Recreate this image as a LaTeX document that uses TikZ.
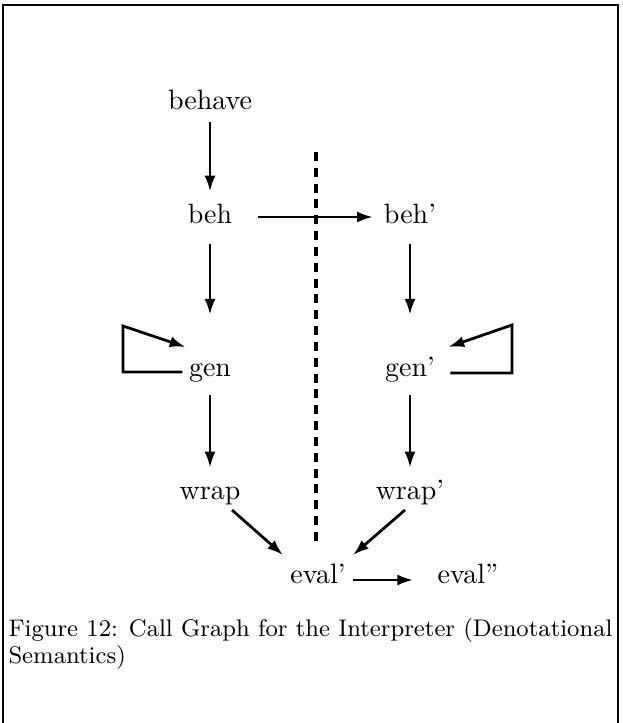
\documentclass[tikz,border=0pt]{standalone}
\usetikzlibrary{arrows.meta,calc}
\begin{document}
\begin{tikzpicture}[x=0.379pt,y=-0.379pt,
  lbl/.style={inner sep=0pt, text height=7.4pt, text depth=2.1pt, font=\fontsize{10.6}{12.7}\selectfont},
  arr/.style={line width=1.05pt, -{Latex[length=6pt,width=4.2pt]}},
  loopline/.style={line width=1.05pt, -{Latex[length=6pt,width=4.2pt]}},
  divider/.style={line width=1.2pt, dash pattern=on 3.4pt off 2.6pt},
  frameline/.style={line width=0.9pt},
  captext/.style={inner sep=0pt, anchor=base west, font=\fontsize{9.1}{11}\selectfont}]
\useasboundingbox (0,0) rectangle (622,723);
\draw[frameline] (3,723) -- (3,5) -- (618,5) -- (618,723);

\node[lbl] (behave) at (210,103) {behave};
\node[lbl] (beh)    at (210,217) {beh};
\node[lbl] (behp)   at (410,217) {beh'};
\node[lbl] (gen)    at (210,370) {gen};
\node[lbl] (genp)   at (410,370) {gen'};
\node[lbl] (wrap)   at (210,493) {wrap};
\node[lbl] (wrapp)  at (410,493) {wrap'};
\node[lbl] (evalp)  at (318,577) {eval'};
\node[lbl] (evalpp) at (468,577) {eval''};

\coordinate (dtop) at (316,152);
\coordinate (dbot) at (316,543);
\draw[divider] (dtop) -- (dbot);

\draw[arr, shorten <=2.4pt, shorten >=4.7pt] (behave) -- (beh);
\draw[arr, shorten <=9.6pt, shorten >=4pt] (beh) -- (behp);
\draw[arr, shorten <=5.1pt, shorten >=16pt] (beh) -- (gen);
\draw[arr, shorten <=5.1pt, shorten >=16pt] (behp) -- (genp);
\draw[arr, shorten <=4.7pt, shorten >=4.7pt] (gen) -- (wrap);
\draw[arr, shorten <=4.7pt, shorten >=4.7pt] (genp) -- (wrapp);

\coordinate (gl1) at (123,372);
\coordinate (gl2) at (123,326);
\draw[loopline] ($(gen.west)+(-6,2)$) -- (gl1) -- (gl2) -- ($(gen.west)+(-3,-23)$);
\coordinate (gr1) at (512,373);
\coordinate (gr2) at (512,325);
\draw[loopline] ($(genp.east)+(15,3)$) -- (gr1) -- (gr2) -- ($(genp.east)+(13,-23)$);

\draw[arr] ($(wrap)+(22,17)$) -- ($(evalp)+(-35,-22)$);
\draw[arr] ($(wrapp)+(-5,17)$) -- ($(evalp)+(35,-22)$);
\draw[arr] ($(evalp.east)+(7,3)$) -- ($(evalpp.west)+(-24,3)$);

\node[captext] (cap1) at (8,636) {Figure 12: Call Graph for the Interpreter (Denotational};
\node[captext] (cap2) at (8,663) {Semantics)};
\end{tikzpicture}
\end{document}
